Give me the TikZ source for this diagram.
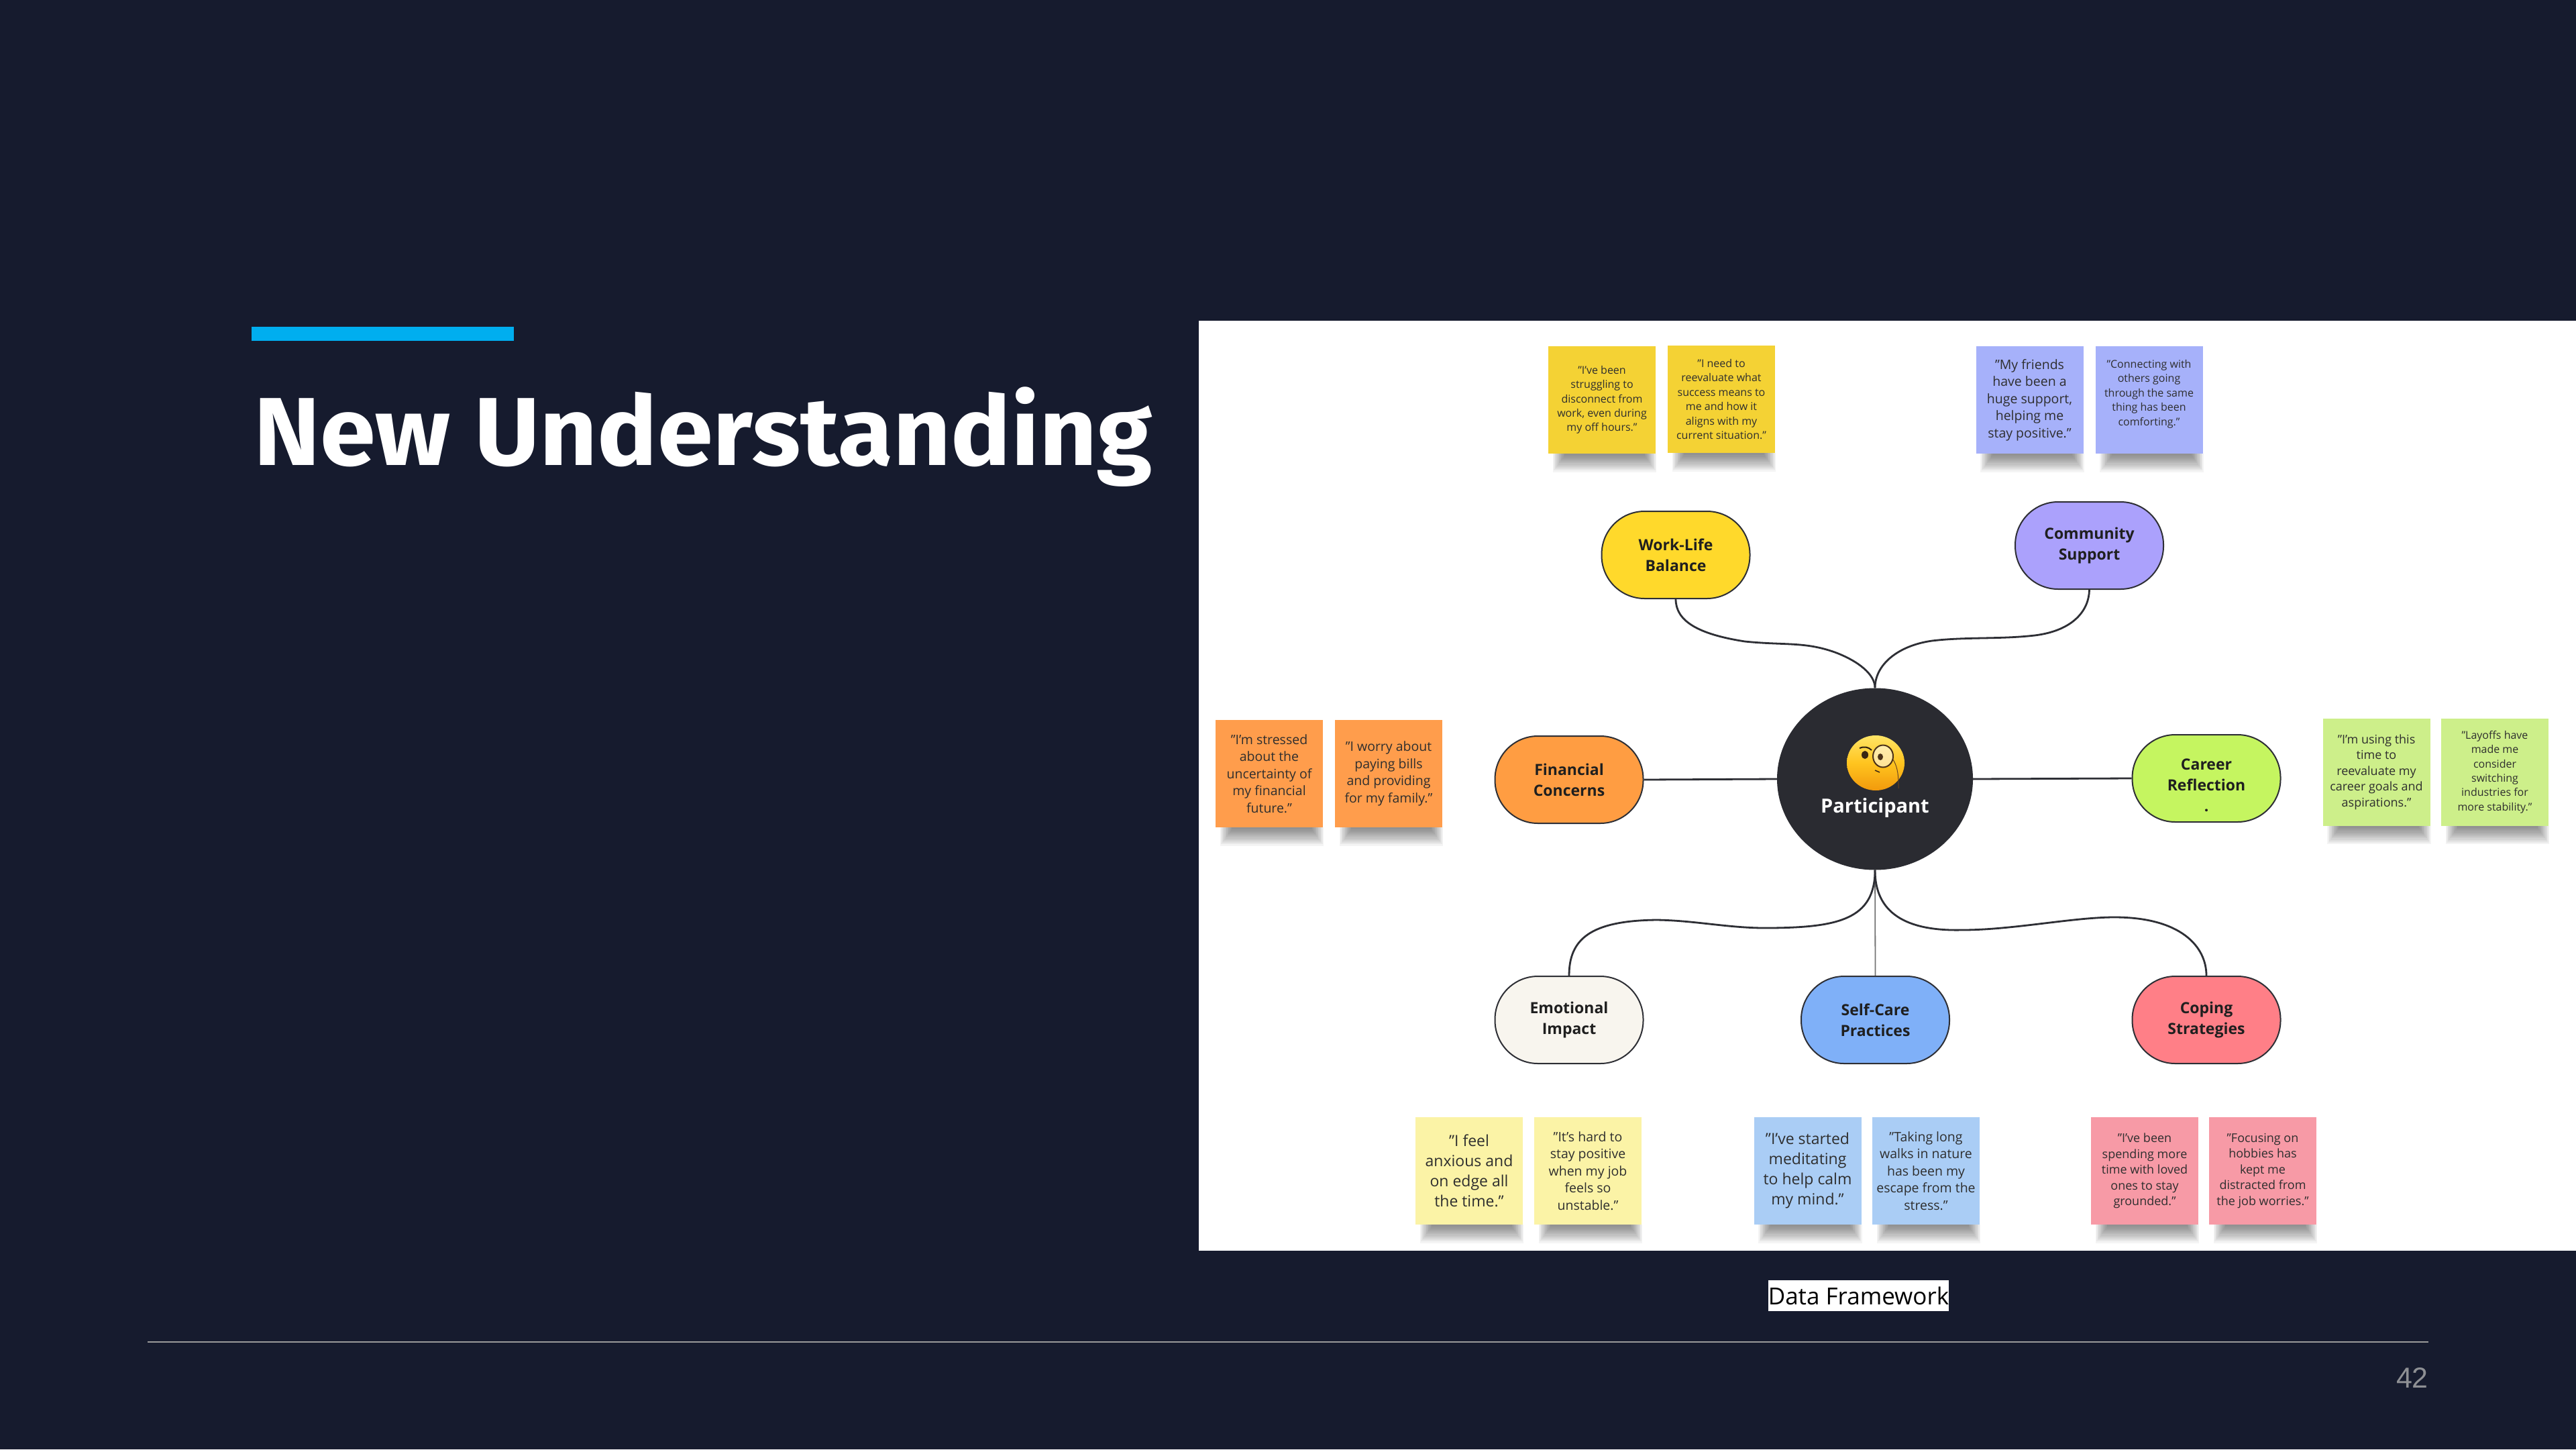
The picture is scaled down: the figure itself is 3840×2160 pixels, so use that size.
\documentclass[tikz,border=0pt]{standalone}
\usepackage{fontspec}
\usetikzlibrary{shapes.geometric}
\setmainfont{Open Sans}
\newfontfamily\titlefont[FakeStretch=1.038]{Fira Sans}
\newfontfamily\pagefont{Liberation Sans}
\definecolor{slidebg}{HTML}{161B2E}
\definecolor{barblue}{HTML}{00AEEF}
\definecolor{rulegray}{HTML}{9A9A9A}
\definecolor{pagegray}{HTML}{8E9094}
\definecolor{hubdark}{HTML}{2A2B31}
\definecolor{edgeink}{HTML}{2E2F35}
\definecolor{nYellow}{HTML}{FFD92B}
\definecolor{nPurple}{HTML}{ABA1FC}
\definecolor{nOrange}{HTML}{FF9D42}
\definecolor{nGreen}{HTML}{C5F560}
\definecolor{nCream}{HTML}{F8F5EE}
\definecolor{nBlue}{HTML}{7FB0F8}
\definecolor{nRed}{HTML}{FF7F87}
\definecolor{sYellow}{HTML}{F4D234}
\definecolor{sPurple}{HTML}{A6B1FA}
\definecolor{sOrange}{HTML}{FF9D4C}
\definecolor{sGreen}{HTML}{CDEF8A}
\definecolor{sPale}{HTML}{FBF3A6}
\definecolor{sBlue}{HTML}{AACDF5}
\definecolor{sPink}{HTML}{F79AA6}
\definecolor{faceTop}{HTML}{FFE566}
\definecolor{faceMid}{HTML}{FFC41F}
\definecolor{faceLow}{HTML}{F29A0C}
\tikzset{
  theme/.style={draw=edgeink,line width=2pt,rounded corners=64pt,minimum width=221pt,minimum height=130pt,
    inner sep=0pt,align=center,text=black!88,font=\bfseries\fontsize{23}{31}\selectfont},
  sticky/.style={minimum width=160pt,minimum height=160pt,inner sep=0pt,align=center,text=black!82},
  fsa/.style={font=\fontsize{16}{21.4}\selectfont},
  fsb/.style={font=\fontsize{18}{23.5}\selectfont},
  fsc/.style={font=\fontsize{19.5}{25.5}\selectfont},
  fsd/.style={font=\fontsize{23}{30}\selectfont},
  link/.style={draw=edgeink,line width=2.8pt},
}
\newcommand{\noteshadow}[1]{%
  \foreach \k in {1,...,12}{
    \fill[black,opacity=0.042] ([xshift=26pt-\k*1.6pt,yshift=0pt]#1.south west) rectangle ([xshift=-18pt+\k*1.6pt,yshift=-1pt-\k*2.2pt]#1.south east);
  }}
\begin{document}
\begin{tikzpicture}[x=1pt,y=-1pt]
\useasboundingbox[fill=slidebg] (0,0) rectangle (3840,2160);
\fill[barblue] (375,487) rectangle (766,508);
\node[anchor=base west,inner sep=0pt,text=white,font=\titlefont\bfseries\fontsize{144}{150}\selectfont] (title) at (378,693) {New Understanding};
\fill[white] (1787,478) rectangle (3840,1864);
\node[fill=white,inner sep=0pt,minimum width=267pt,minimum height=46pt,text=black,font=\fontsize{35}{40}\selectfont] (cap) at (2770.5,1931) {Data Framework};
\draw[rulegray,line width=2.5pt] (220,2000) -- (3620,2000);
\node[anchor=base east,inner sep=0pt,text=pagegray,font=\pagefont\fontsize{43}{46}\selectfont] (page) at (3620,2068) {42};

% sticky notes
\node[sticky,fsa,fill=sYellow] (y1) at (2388,596) {"I've been\\struggling to\\disconnect from\\work, even during\\my off hours."};
\node[sticky,fsa,fill=sYellow] (y2) at (2566,595) {"I need to\\reevaluate what\\success means to\\me and how it\\aligns with my\\current situation."};
\node[sticky,fsc,fill=sPurple] (p1) at (3025.5,596) {"My friends\\have been a\\huge support,\\helping me\\stay positive."};
\node[sticky,fsa,fill=sPurple] (p2) at (3203.5,596) {"Connecting with\\others going\\through the same\\thing has been\\comforting."\\~};
\node[sticky,fsc,fill=sOrange] (o1) at (1892,1153) {"I'm stressed\\about the\\uncertainty of\\my financial\\future."};
\node[sticky,fsc,fill=sOrange] (o2) at (2070,1153) {"I worry about\\paying bills\\and providing\\for my family."};
\node[sticky,fsb,fill=sGreen] (g1) at (3542.5,1150.5) {"I'm using this\\time to\\reevaluate my\\career goals and\\aspirations."};
\node[sticky,fsa,fill=sGreen] (g2) at (3719,1150.5) {"Layoffs have\\made me\\consider\\switching\\industries for\\more stability."};
\node[sticky,fsd,fill=sPale] (e1) at (2190,1745) {"I feel\\anxious and\\on edge all\\the time."};
\node[sticky,fsc,fill=sPale] (e2) at (2367,1745) {"It's hard to\\stay positive\\when my job\\feels so\\unstable."};
\node[sticky,fsd,fill=sBlue] (b1) at (2694.5,1745) {"I've started\\meditating\\to help calm\\my mind."};
\node[sticky,fsc,fill=sBlue] (b2) at (2871,1745) {"Taking long\\walks in nature\\has been my\\escape from the\\stress."};
\node[sticky,fsb,fill=sPink] (k1) at (3197,1745) {"I've been\\spending more\\time with loved\\ones to stay\\grounded."};
\node[sticky,fsb,fill=sPink] (k2) at (3373,1745) {"Focusing on\\hobbies has\\kept me\\distracted from\\the job worries."};
\noteshadow{y1}\noteshadow{y2}\noteshadow{p1}\noteshadow{p2}\noteshadow{o1}\noteshadow{o2}\noteshadow{g1}
\noteshadow{g2}\noteshadow{e1}\noteshadow{e2}\noteshadow{b1}\noteshadow{b2}\noteshadow{k1}\noteshadow{k2}

% theme nodes
\node[theme,fill=nYellow] (wl) at (2498,827) {Work-Life\\Balance};
\node[theme,fill=nPurple] (cs) at (3114.5,813) {Community\\Support};
\node[theme,fill=nOrange] (fc) at (2339,1162) {Financial\\Concerns};
\node[theme,fill=nGreen] (cr) at (3289,1160) {\rule{0pt}{38pt}Career\\Reflection\\.};
\node[theme,fill=nCream] (ei) at (2339,1520) {Emotional\\Impact};
\node[theme,fill=nBlue] (sc) at (2795.5,1520) {Self-Care\\Practices};
\node[theme,fill=nRed] (co) at (3289,1520) {Coping\\Strategies};
\node[ellipse,fill=hubdark,minimum width=292pt,minimum height=271pt,inner sep=0pt] (hub) at (2795,1161) {};
\node[inner sep=0pt,text=white,font=\bfseries\fontsize{29}{32}\selectfont] (hublabel) at (2795,1204) {Participant};

% emoji
\shade[top color=faceTop,bottom color=faceLow,middle color=faceMid] (2796,1137) ellipse (43pt and 41pt);
\fill[black!70!brown] (2780,1125) ellipse (5pt and 6pt);
\draw[black!75!brown,line width=2pt] (2772,1115) .. controls (2778,1112) and (2785,1113) .. (2790,1118);
\draw[black!60!brown,line width=2pt,fill=white,fill opacity=0.55] (2807,1127) ellipse (15pt and 16.5pt);
\fill[black!60!brown] (2803,1128) ellipse (4pt and 5pt);
\draw[black!70!brown,line width=1.5pt] (2795,1148) -- (2802,1151);
\draw[black!45!brown,line width=1pt] (2822,1132) .. controls (2830,1145) and (2830,1160) .. (2830,1175);

% connectors
\draw[link] (fc.east) -- (hub.west);
\draw[link] (hub.east) -- (cr.west);
\draw[link,line width=1.8pt,draw=black!55] (hub.south) -- (sc.north);
\draw[link] (wl.south) .. controls (2498,925) and (2530,945) .. (2601,956) .. controls (2660,962) and (2690,956) .. (2735,972) .. controls (2770,985) and (2795,1005) .. (hub.north);
\draw[link] (cs.south) .. controls (3114,910) and (3090,940) .. (3033,947) .. controls (2980,953) and (2930,949) .. (2880,955) .. controls (2830,962) and (2795,990) .. (hub.north);
\draw[link] (ei.north) .. controls (2339,1400) and (2370,1372) .. (2470,1371) .. controls (2530,1372) and (2580,1384) .. (2640,1383) .. controls (2740,1382) and (2795,1370) .. (hub.south);
\draw[link] (co.north) .. controls (3289,1410) and (3250,1367) .. (3152,1367) .. controls (3090,1367) and (3000,1386) .. (2925,1386) .. controls (2840,1388) and (2795,1360) .. (hub.south);
\end{tikzpicture}
\end{document}
